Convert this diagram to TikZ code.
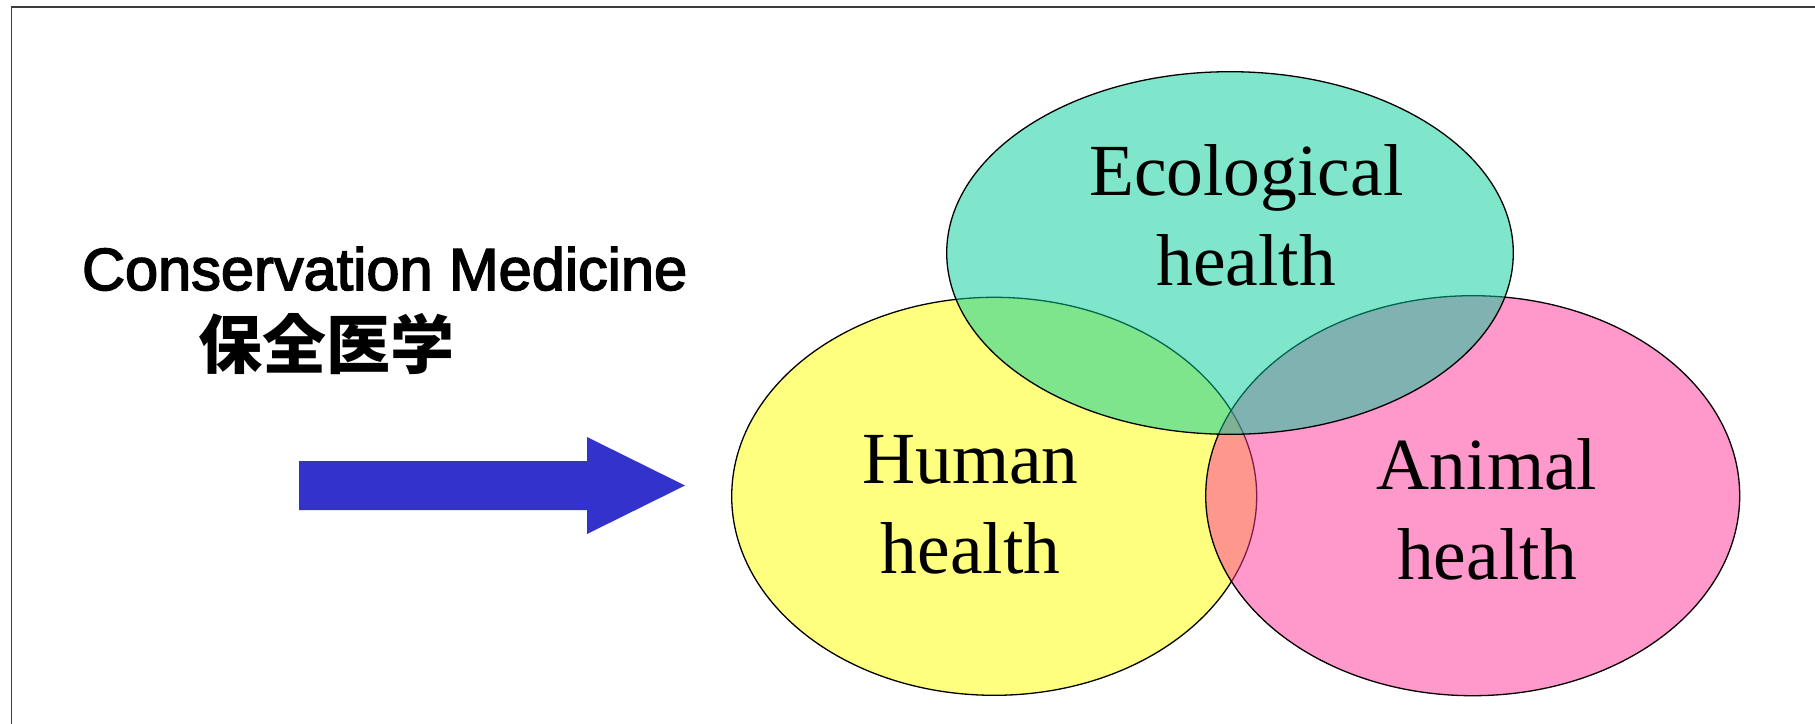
\documentclass[tikz,border=0pt]{standalone}
\usepackage{fontspec}
\setmainfont{Liberation Serif}
\newfontfamily\latinsans[FakeBold=2.6]{Liberation Sans}
\newfontfamily\cjk{Noto Sans CJK JP}
\usetikzlibrary{shapes.geometric}

\definecolor{humanyellow}{RGB}{255,255,0}
\definecolor{animalpink}{RGB}{255,51,153}
\definecolor{ecoteal}{RGB}{0,204,153}
\definecolor{arrowblue}{RGB}{51,51,204}
\definecolor{framegray}{RGB}{60,60,60}

\tikzset{
  healthset/.style={ellipse, draw=black, line width=1.3pt, fill opacity=0.5,
    inner sep=0pt, outer sep=0pt},
  venntext/.style={anchor=base, inner sep=0pt,
    font=\fontsize{73.5}{90}\selectfont},
  titletext/.style={anchor=base, inner sep=0pt},
}

\begin{document}
\begin{tikzpicture}[x=1pt, y=-1pt]
  % page area
  \clip (0,0) rectangle (1815,723);
  \fill[white] (0,0) rectangle (1815,723);

  % slide frame (only the top and left edges fall inside the page)
  \draw[framegray, line width=1.6pt] (11.5,760) -- (11.5,7) -- (1840,7);

  % title
  \node[titletext, font=\latinsans\fontsize{59.5}{70}\selectfont]
    (title) at (384.7,290) {Conservation Medicine};
  \node[titletext, font=\cjk\bfseries\fontsize{64}{70}\selectfont]
    (titlejp) at (326.3,368) {保全医学};

  % block arrow
  \fill[arrowblue] (299,461) -- (587,461) -- (587,437) -- (685,485.5)
    -- (587,534) -- (587,510) -- (299,510) -- cycle;

  % the three overlapping health sets
  \node[healthset, fill=humanyellow, minimum width=525pt, minimum height=398pt]
    (human) at (994.2,496.3) {};
  \node[healthset, fill=animalpink, minimum width=534pt, minimum height=400pt]
    (animal) at (1472.7,495.7) {};
  \node[healthset, fill=ecoteal, minimum width=566.6pt, minimum height=362.6pt]
    (eco) at (1230,253) {};

  % set labels
  \node[venntext] (ecolabel) at (1246.3,195)
    {\begin{tabular}[t]{@{}c@{}}Ecological\\health\end{tabular}};
  \node[venntext] (humanlabel) at (970.5,483.3)
    {\begin{tabular}[t]{@{}c@{}}Human\\health\end{tabular}};
  \node[venntext] (animallabel) at (1487,489.3)
    {\begin{tabular}[t]{@{}c@{}}Animal\\health\end{tabular}};
\end{tikzpicture}
\end{document}
